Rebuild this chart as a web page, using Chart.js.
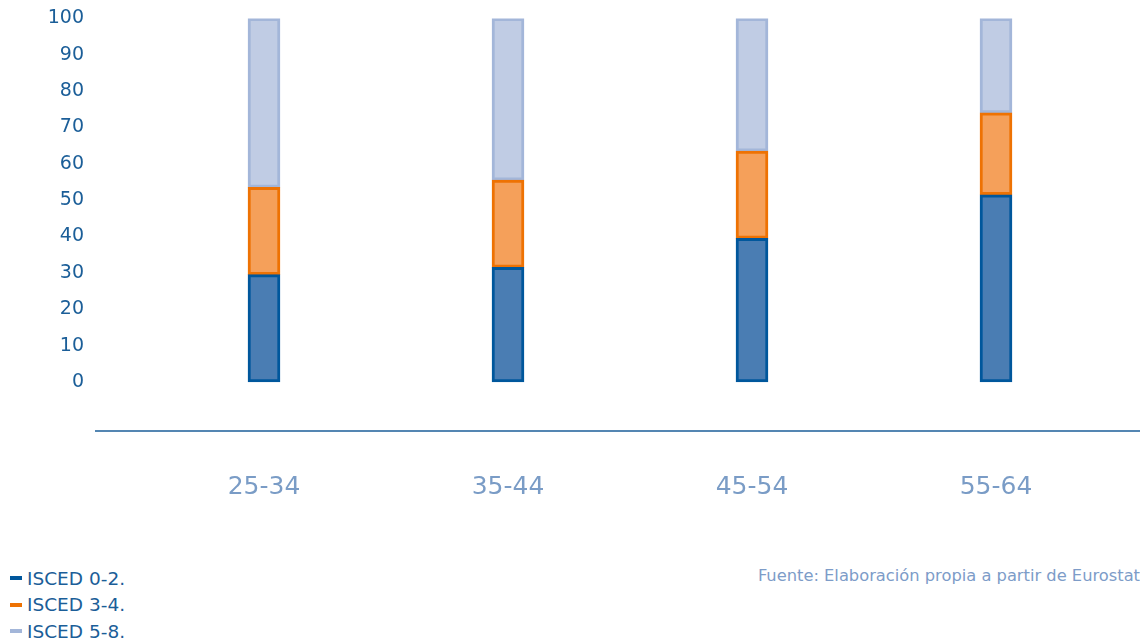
<!DOCTYPE html>
<html>
<head>
<meta charset="utf-8">
<script src="https://cdn.jsdelivr.net/npm/chart.js@4/dist/chart.umd.min.js"></script>
<style>
  body { margin: 0; background: #fff; font-family: "DejaVu Sans", sans-serif; }
  #wrap { position: relative; width: 1140px; height: 641px; overflow: hidden; }
  #chart { position: absolute; left: 0; top: -43px; }
  #legend { position: absolute; left: 10px; top: 565px; }
  .item { display: flex; align-items: center; height: 26.5px; font-size: 18.5px; color: #1b5e98; }
  .mark { width: 12px; height: 4px; margin-right: 5px; }
  #fuente { position: absolute; right: 0; top: 566px; font-size: 16.3px; color: #7d9cc8; }
</style>
</head>
<body>
<div id="wrap">
  <canvas id="chart" width="1140" height="563"></canvas>
  <div id="legend"></div>
  <div id="fuente">Fuente: Elaboración propia a partir de Eurostat</div>
</div>
<script>
const categorias = ["25-34", "35-44", "45-54", "55-64"];
const etiquetasY = [0, 10, 20, 30, 40, 50, 60, 70, 80, 90, 100];

const isced02 = [29.5, 31.5, 39.5, 51.5];
const isced34 = [24, 24, 24, 22.5];
const isced58 = [46.5, 44.5, 36.5, 26];

const series = [
  { label: "ISCED 0-2.", data: isced02, fill: "#4a7db3", borde: "#00579c" },
  { label: "ISCED 3-4.", data: isced34, fill: "#f5a05a", borde: "#ee7203" },
  { label: "ISCED 5-8.", data: isced58, fill: "#c0cce4", borde: "#a3b6d9" }
];

// linea base del eje X, mas ancha que el area de barras
const lineaBase = {
  id: "lineaBase",
  afterDraw(chart) {
    const ctx = chart.ctx;
    const y = chart.chartArea.bottom;
    ctx.save();
    ctx.strokeStyle = "#1b5e98";
    ctx.lineWidth = 1.5;
    ctx.beginPath();
    ctx.moveTo(95, y);
    ctx.lineTo(1140, y);
    ctx.stroke();
    ctx.restore();
  }
};

new Chart(document.getElementById("chart"), {
  type: "bar",
  data: {
    labels: categorias,
    datasets: series.map(s => ({
      label: s.label,
      data: s.data,
      backgroundColor: s.fill,
      borderColor: s.borde,
      borderWidth: 3,
      borderSkipped: false,
      barThickness: 32
    }))
  },
  options: {
    responsive: false,
    animation: false,
    layout: { padding: { top: 0, right: 22, left: 0, bottom: 0 } },
    plugins: { legend: { display: false }, tooltip: { enabled: false } },
    scales: {
      x: {
        stacked: true,
        grid: { display: false },
        border: { display: false },
        afterFit(scale) { scale.height = 89; },
        ticks: { color: "#7a9cc6", font: { family: "DejaVu Sans", size: 25 }, padding: 33 }
      },
      y: {
        stacked: true,
        min: -13.5,
        max: 100,
        afterBuildTicks(scale) {
          scale.ticks = etiquetasY.map(v => ({ value: v }));
        },
        afterFit(scale) { scale.width = 142; },
        grid: { display: false },
        border: { display: false },
        ticks: { color: "#1b5e98", font: { family: "DejaVu Sans", size: 19 }, padding: 50 }
      }
    }
  },
  plugins: [lineaBase]
});

const legend = document.getElementById("legend");
series.forEach(s => {
  legend.innerHTML += `<div class="item"><span class="mark" style="background:${s.borde}"></span>${s.label}</div>`;
});
</script>
</body>
</html>
